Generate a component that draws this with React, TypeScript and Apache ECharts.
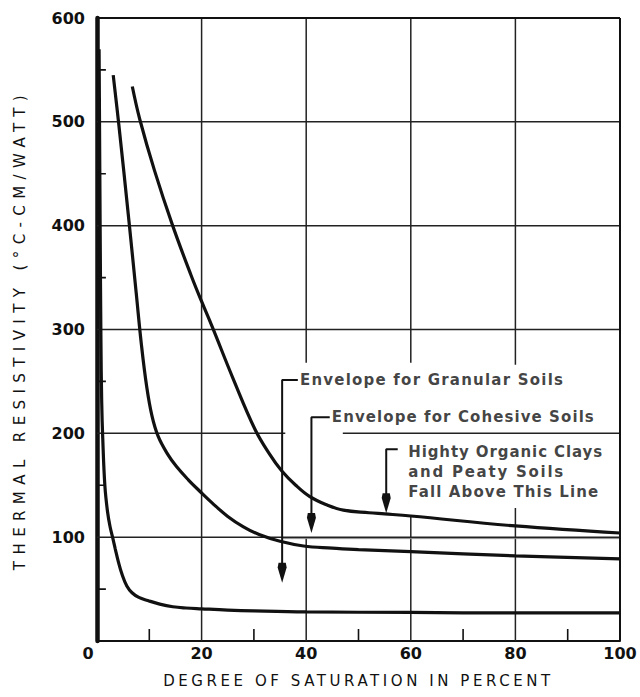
import React, { useEffect, useRef } from 'react';
import * as echarts from 'echarts';

// ---------- data ----------
const xTicks = [0, 20, 40, 60, 80, 100];
const yTicks = [0, 100, 200, 300, 400, 500, 600];
const xMinorTicks = [10, 30, 50, 70, 90];
const yMinorTicks = [50, 150, 250, 350, 450, 550];

// lowest curve (steepest fall)
const lowerCurve: [number, number][] = [
  [0.4, 570], [0.6, 400], [0.75, 290], [0.9, 230], [1.1, 195], [1.5, 150], [2.0, 125],
  [2.5, 110], [3.0, 99.5], [3.5, 88.5], [4.1, 76], [4.8, 64], [5.7, 53], [6.7, 46.5],
  [8, 42], [9.7, 39], [12, 35.5], [14.5, 33], [17, 31.8], [20, 31], [25, 29.8],
  [30, 29], [40, 28], [60, 27.5], [80, 27], [100, 27],
];
// middle curve (Envelope for Cohesive Soils)
const middleCurve: [number, number][] = [
  [3.1, 545], [4.2, 496], [6.1, 405], [7.5, 335], [8.5, 285], [9.5, 245], [10.5, 217],
  [11.7, 197], [13.5, 180], [15.2, 168], [17.5, 155], [19.7, 144], [22, 133], [25, 120],
  [28, 110], [31, 102.5], [35, 96], [39.5, 91.5], [45, 89.5], [50, 88], [60, 86],
  [80, 82], [100, 79],
];
// upper curve (Envelope for Granular Soils)
const upperCurve: [number, number][] = [
  [6.75, 534], [8.2, 502], [11, 453], [14.4, 401], [18, 352], [20, 327], [22, 303],
  [26, 253], [30.2, 204], [33, 180], [35.3, 164], [38, 150], [40.7, 139], [44, 131],
  [47.1, 126], [52, 123.5], [55, 122.4], [60, 120.4], [80, 110.8], [100, 104],
];

// grid segments in data units
const verticalGrid: [number, number, number][] = [
  [20, 0, 600], [40, 0, 100], [40, 268, 600], [60, 0, 121], [60, 268, 600], [80, 0, 128], [80, 266, 600],
];
const horizontalGrid: [number, number, number][] = [
  [100, 0, 100], [200, 0, 36], [200, 47, 100], [300, 0, 100], [400, 0, 100], [500, 0, 100],
];
const faintGrid: [number, number, number][] = [[98.6, 35.4, 100]];
const frameLines: [number, number][][] = [
  [[0, 600], [100, 600]], [[100, 0], [100, 600]],
];

// annotations
const annotationTexts = [
  'Envelope for Granular Soils',
  'Envelope for Cohesive Soils',
  'Highty Organic Clays\nand Peaty Soils\nFall Above This Line',
];
const annotationAnchors: [number, number][] = [[38.8, 251.4], [44.9, 215.6], [59.5, 162.8]];
const bracketPaths: [number, number][][] = [
  [[38.4, 251.4], [35.4, 251.4], [35.4, 66]],
  [[44.5, 215.6], [41.0, 215.6], [41.0, 114]],
  [[57.5, 184.7], [55.3, 184.7], [55.3, 133]],
];
const arrowTips: [number, number][] = [[35.4, 56], [41.0, 104], [55.3, 123]];

const xTitle = 'DEGREE OF SATURATION IN PERCENT';
const yTitle = 'THERMAL RESISTIVITY (°C-CM/WATT)';

// target text widths (px) used for letter spacing
const textWidths: Record<string, number> = {
  [xTitle]: 387,
  [yTitle]: 475,
  'Envelope for Granular Soils': 263,
  'Envelope for Cohesive Soils': 262,
  'Highty Organic Clays': 194,
  'and Peaty Soils': 155,
  'Fall Above This Line': 190,
};

const FONT = "'DejaVu Sans', sans-serif";
const INK = '#111';
const X_TICK_LEN = 11.5; // data units (~12px)
const Y_TICK_LEN = 1.7; // data units (~9px)

// build a broken polyline from segments (gaps between segments)
function segmentsToData(segs: [number, number][][]): any[] {
  const out: any[] = [];
  segs.forEach((s, i) => {
    if (i > 0) out.push('-');
    s.forEach((p) => out.push(p));
  });
  return out;
}

export default function App() {
  const ref = useRef<HTMLDivElement>(null);

  useEffect(() => {
    if (!ref.current) return;
    const chart = echarts.init(ref.current, undefined, { renderer: 'svg' });

    const labelStyle = { fontFamily: FONT, fontWeight: 'bold' as const, fontSize: 16, color: INK };

    const gridSegs: [number, number][][] = [
      ...verticalGrid.map(([x, a, b]) => [[x, a], [x, b]] as [number, number][]),
      ...horizontalGrid.map(([y, a, b]) => [[a, y], [b, y]] as [number, number][]),
    ];
    const faintSegs: [number, number][][] = faintGrid.map(([y, a, b]) => [[a, y], [b, y]]);
    const tickSegs: [number, number][][] = [
      ...xMinorTicks.map((x) => [[x, 0], [x, X_TICK_LEN]] as [number, number][]),
      ...yMinorTicks.map((y) => [[0, y], [Y_TICK_LEN, y]] as [number, number][]),
    ];

    const segSeries = (segs: [number, number][][], color: string, width: number) => ({
      type: 'line', data: segmentsToData(segs), showSymbol: false, connectNulls: false,
      smooth: false, silent: true, z: 1, lineStyle: { color, width },
    });

    const option: any = {
      animation: false,
      backgroundColor: '#fff',
      grid: { left: 97, right: 20, top: 18, bottom: 56, containLabel: false },
      xAxis: {
        type: 'value', min: 0, max: 100, interval: 20,
        name: xTitle, nameLocation: 'middle', nameGap: 32,
        nameTextStyle: { fontFamily: FONT, fontSize: 15, color: INK },
        axisLine: { show: true, lineStyle: { color: INK, width: 2 } },
        axisTick: { show: false },
        splitLine: { show: false },
        axisLabel: {
          ...labelStyle, margin: 4,
          formatter: (v: number) => (v === 0 ? '{z|0}' : String(v)),
          rich: { z: { ...labelStyle, padding: [0, 18, 0, 0] } },
        },
      },
      yAxis: {
        type: 'value', min: 0, max: 600, interval: 100,
        name: yTitle, nameLocation: 'middle', nameRotate: 90, nameGap: 70,
        nameTextStyle: { fontFamily: FONT, fontSize: 15, color: INK },
        axisLine: { show: true, lineStyle: { color: INK, width: 4.5 } },
        axisTick: { show: false },
        splitLine: { show: false },
        axisLabel: { ...labelStyle, margin: 12, formatter: (v: number) => (v === 0 ? '' : String(v)) },
      },
      series: [
        segSeries(gridSegs, '#222', 1.5),
        segSeries(faintSegs, '#888', 1),
        segSeries(frameLines, INK, 2),
        segSeries(tickSegs, INK, 1.6),
        ...[lowerCurve, middleCurve, upperCurve].map((d) => ({
          type: 'line', data: d, showSymbol: false, smooth: 0.4,
          lineStyle: { color: INK, width: 3.2 }, z: 3, silent: true,
        })),
        ...bracketPaths.map((d) => ({
          type: 'line', data: d, showSymbol: false, smooth: false,
          lineStyle: { color: INK, width: 2 }, z: 3, silent: true,
        })),
        {
          type: 'scatter', data: arrowTips, silent: true, z: 4,
          symbol: 'path://M1,0 L9,0 L10,6 L5,26 L0,6 Z', symbolSize: [9, 20], symbolOffset: [0, '-50%'],
          itemStyle: { color: INK, opacity: 1 },
        },
        {
          type: 'scatter', silent: true, z: 4, symbolSize: 0,
          data: annotationAnchors.map((p, i) => ({ value: p, name: annotationTexts[i] })),
          label: {
            show: true, position: 'right', distance: 0, formatter: (p: any) => p.name,
            fontFamily: FONT, fontWeight: 'bold', fontSize: 15, color: INK, lineHeight: 20, align: 'left',
          },
        },
      ],
    };
    chart.setOption(option);

    const fit = () => {
      const root = ref.current;
      if (!root) return;
      root.querySelectorAll('text').forEach((t) => {
        const s = (t.textContent || '').trim();
        const target = textWidths[s];
        if (!target) return;
        (t as SVGTextElement).style.letterSpacing = '0px';
        const len = (t as SVGTextElement).getComputedTextLength();
        const ls = (target - len) / Math.max(1, s.length - 1);
        (t as SVGTextElement).style.letterSpacing = ls.toFixed(2) + 'px';
      });
    };
    chart.on('rendered', fit);
    fit();
    const raf = requestAnimationFrame(fit);
    const tm = setTimeout(fit, 50);

    return () => {
      cancelAnimationFrame(raf);
      clearTimeout(tm);
      chart.dispose();
    };
  }, []);

  return (
    <div
      ref={ref}
      style={{ position: 'fixed', left: 0, top: 0, width: 640, height: 697, background: '#fff' }}
    />
  );
}
